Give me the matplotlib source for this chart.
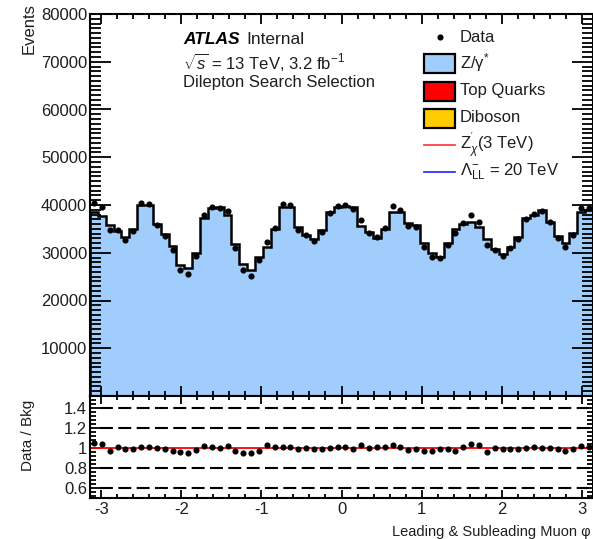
import numpy as np
import matplotlib
matplotlib.use("Agg")
import matplotlib.pyplot as plt
from matplotlib.patches import Rectangle
from matplotlib.lines import Line2D
from matplotlib.ticker import MultipleLocator, FixedLocator

plt.rcParams['font.family'] = ['Liberation Sans', 'DejaVu Sans']
plt.rcParams['mathtext.fontset'] = 'custom'
plt.rcParams['mathtext.rm'] = 'Liberation Sans'
plt.rcParams['mathtext.it'] = 'Liberation Sans:italic'
plt.rcParams['mathtext.bf'] = 'Liberation Sans:bold'
plt.rcParams['axes.unicode_minus'] = False

# ---- data ----
n_bins = 64
phi_min, phi_max = -np.pi, np.pi

bkg = [38500, 37800, 35800, 34500, 33200, 35000, 39900, 40000,
       36000, 34000, 31500, 27500, 26800, 29900, 37200, 39300,
       39500, 38000, 31800, 27600, 26400, 29200, 31300, 35000,
       39600, 39500, 35300, 33800, 32900, 34700, 38500, 39600,
       39800, 39600, 35700, 34300, 33000, 35000, 38600, 38600,
       36300, 35800, 32000, 30000, 29200, 32000, 35000, 36000,
       36500, 35300, 32800, 30700, 29700, 31300, 33400, 37200,
       37900, 38900, 36500, 33500, 32000, 34200, 38600, 39000]

ratio = [1.050, 1.045, 0.973, 1.007, 0.987, 0.987, 1.013, 1.007,
         0.997, 0.987, 0.973, 0.963, 0.953, 0.980, 1.020, 1.007,
         0.997, 1.020, 0.973, 0.953, 0.953, 0.973, 1.030, 1.007,
         1.013, 1.013, 0.987, 0.997, 0.987, 0.987, 0.997, 1.007,
         1.007, 0.987, 1.030, 0.997, 1.007, 1.007, 1.030, 1.007,
         0.980, 0.987, 0.973, 0.973, 0.987, 0.987, 0.973, 1.007,
         1.040, 1.030, 0.963, 0.997, 0.987, 0.987, 0.987, 0.997,
         1.007, 0.997, 0.997, 0.987, 0.973, 0.987, 1.020, 1.007]

main_yticks = [10000, 20000, 30000, 40000, 50000, 60000, 70000, 80000]
ratio_yticks = [0.6, 0.8, 1.0, 1.2, 1.4]
ratio_ytick_labels = ["0.6", "0.8", "1", "1.2", "1.4"]
ratio_dashed = [0.6, 0.8, 1.2, 1.4]
xticks = [-3, -2, -1, 0, 1, 2, 3]

legend_labels = ["Data", "Z/γ$^{*}$", "Top Quarks", "Diboson",
                 r"Z$^{'}_{\chi}$(3 TeV)", r"$\Lambda^{-}_{\mathrm{LL}}$ = 20 TeV"]

edges = np.linspace(phi_min, phi_max, n_bins + 1)
centers = 0.5 * (edges[:-1] + edges[1:])
bkg = np.array(bkg, dtype=float)
ratio = np.array(ratio)
data = bkg * ratio

blue = '#a0cdfc'
txtc = '#1e1e1e'

fig = plt.figure(figsize=(5.93, 5.39), dpi=100)
W, H = 593.0, 539.0
L, R = 90 / W, 593 / W
ax = fig.add_axes([L, 1 - 396 / H, R - L, (396 - 14) / H])
ax2 = fig.add_axes([L, 1 - 498 / H, R - L, (498 - 396) / H], sharex=ax)

# main histogram
ax.stairs(bkg, edges, fill=True, color=blue, zorder=1)
ax.stairs(bkg, edges, color='black', lw=1.8, zorder=2)
ax.plot(centers, data, 'o', color='black', ms=3.4, zorder=3)
ax.set_xlim(phi_min, phi_max)
ax.set_ylim(0, 80000)

# ratio
for yv in ratio_dashed:
    ax2.plot([-3.02, phi_max], [yv, yv], color='black', lw=1.5, dashes=(6.2, 2.6), zorder=1)
ax2.axhline(1.0, color='red', lw=1.3, zorder=2)
ax2.plot(centers, ratio, 'o', color='black', ms=3.4, zorder=3)
ax2.set_ylim(0.5, 1.52)
ax2.set_xlim(phi_min, phi_max)

for a in (ax, ax2):
    for s in a.spines.values():
        s.set_linewidth(1.5)
    a.tick_params(which='both', direction='in', top=True, right=True,
                  colors='black', labelcolor=txtc, labelsize=12, width=1.3)
    a.xaxis.set_major_locator(FixedLocator(xticks))
    a.xaxis.set_minor_locator(MultipleLocator(0.2))

ax.tick_params(axis='y', which='major', length=15, pad=2)
ax.tick_params(axis='y', which='minor', length=8)
ax.tick_params(axis='x', which='major', length=7)
ax.tick_params(axis='x', which='minor', length=3.5)
ax.tick_params(axis='x', labelbottom=False)
ax.yaxis.set_major_locator(FixedLocator(main_yticks))
ax.yaxis.set_minor_locator(MultipleLocator(1000))

ax2.tick_params(axis='y', which='major', length=8, pad=2)
ax2.tick_params(axis='y', which='minor', length=4.5)
ax2.tick_params(axis='x', which='major', length=6, pad=3)
ax2.tick_params(axis='x', which='minor', length=3)
ax2.yaxis.set_major_locator(FixedLocator(ratio_yticks))
ax2.set_yticklabels(ratio_ytick_labels)
ax2.yaxis.set_minor_locator(MultipleLocator(0.04))

# axis titles
fig.text(29 / W, 1 - 3 / H, "Events", rotation=90, ha='center', va='top',
         fontsize=12, color=txtc)
fig.text(28 / W, 1 - 435 / H, "Data / Bkg", rotation=90, ha='center', va='center',
         fontsize=11, color=txtc)
fig.text(591 / W, 1 - 532 / H, "Leading & Subleading Muon φ", ha='right', va='center',
         fontsize=10.5, color=txtc)

# ATLAS label
def axf(px, py):
    return (px - 90) / 503.0, (396 - py) / 382.0

x0, y0 = axf(183, 40)
ax.text(x0, y0, "ATLAS", transform=ax.transAxes, fontsize=12.5, fontweight='bold',
        fontstyle='italic', ha='left', va='center', color='black')
x1, _ = axf(246, 40)
ax.text(x1, y0, "Internal", transform=ax.transAxes, fontsize=12.5, ha='left', va='center',
        color=txtc)
x0, y1 = axf(183, 62)
ax.text(x0, y1, r"$\sqrt{s}$ = 13 TeV, 3.2 fb$^{-1}$", transform=ax.transAxes, fontsize=12,
        ha='left', va='center', color=txtc)
x0, y2 = axf(183, 83)
ax.text(x0, y2, "Dilepton Search Selection", transform=ax.transAxes, fontsize=12,
        ha='left', va='center', color=txtc)

# legend (manual)
tx, _ = axf(460, 0)
bx0, _ = axf(424, 0)
bx1, _ = axf(455, 0)
bw = bx1 - bx0
bh = 19 / 382.0
rows_y = [37, 63, 91, 118, 145, 172]
# Data
dx, dy = axf(439.5, rows_y[0])
ax.plot([dx], [dy], 'o', color='black', ms=3.4, transform=ax.transAxes, clip_on=False)
fills = [blue, '#ff0000', '#ffcc00']
for i, fc in enumerate(fills):
    _, cy = axf(0, rows_y[i + 1])
    ax.add_patch(Rectangle((bx0, cy - bh / 2), bw, bh, transform=ax.transAxes,
                           facecolor=fc, edgecolor='black', lw=1.6, zorder=5))
for i, lc in enumerate(['#ff3030', '#2020ff']):
    _, cy = axf(0, rows_y[4 + i])
    ax.add_line(Line2D([bx0, bx1], [cy, cy], transform=ax.transAxes, color=lc, lw=1.2))
for lab, ry in zip(legend_labels, rows_y):
    _, cy = axf(0, ry)
    ax.text(tx, cy, lab, transform=ax.transAxes, fontsize=12, ha='left', va='center',
            color=txtc)

fig.savefig("out.png", dpi=100)
